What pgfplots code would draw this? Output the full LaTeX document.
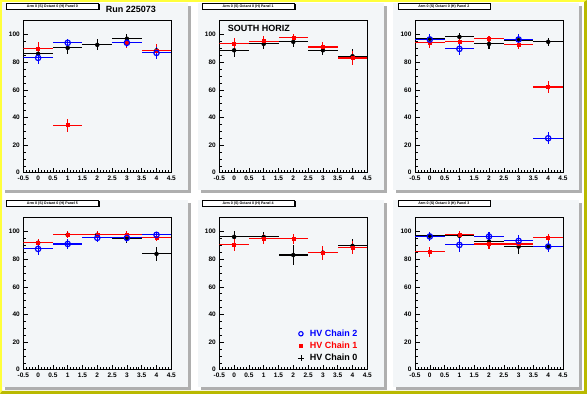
\documentclass[border=0pt]{standalone}
\usepackage{fontspec}
\setmainfont{Liberation Sans}
\usepackage{pgfplots}
\usepackage{pgfplotstable}
\pgfplotsset{compat=1.18}
\definecolor{padc}{RGB}{243,246,248}
\definecolor{shad}{RGB}{175,175,175}
\definecolor{ylw}{RGB}{255,255,60}
\definecolor{olv}{RGB}{185,185,0}

% columns: x, black (chain 0), error, red (chain 1), error, blue (chain 2), error
\pgfplotstableread{
x k ke r re b be
0 86.0 3.0 89.6 5.0 83.1 4.4
1 90.3 4.2 34.4 4.8 94.0 3.1
2 92.5 3.9 nan nan nan nan
3 96.9 3.4 94.4 3.8 94.0 3.0
4 88.5 4.0 88.6 4.8 86.7 4.2
}\tA
\pgfplotstableread{
x k ke r re
0 88.6 4.6 93.5 4.0
1 93.2 3.4 95.2 3.5
2 94.7 3.5 97.6 2.5
3 88.6 3.6 91.0 3.5
4 84.3 5.0 83.0 5.0
}\tB
\pgfplotstableread{
x k ke r re b be
0 96.9 3.0 94.0 3.5 96.4 4.0
1 98.3 3.0 94.7 3.0 89.6 4.6
2 93.2 3.5 96.9 2.0 nan nan
3 95.9 3.0 92.7 3.5 96.4 3.7
4 94.7 3.0 62.0 4.0 24.9 4.4
}\tC
\pgfplotstableread{
x k ke r re b be
0 91.8 3.0 91.8 3.0 87.4 4.5
1 97.6 2.5 97.6 2.5 91.0 3.5
2 97.6 2.5 97.6 2.5 95.4 3.0
3 94.7 3.0 97.6 2.5 95.4 3.0
4 83.8 5.0 95.4 2.5 97.6 2.0
}\tD
\pgfplotstableread{
x k ke r re
0 96.1 4.5 90.3 4.4
1 96.1 3.5 94.7 3.5
2 83.0 7.0 94.7 3.5
3 84.7 4.0 84.7 5.0
4 89.6 5.0 88.4 4.5
}\tE
\pgfplotstableread{
x k ke r re b be
0 96.9 3.0 85.5 3.6 96.4 3.5
1 96.9 3.0 97.6 2.5 90.3 5.0
2 92.7 3.0 91.0 3.5 96.4 3.5
3 89.1 5.5 91.0 3.5 93.2 4.5
4 89.1 4.0 95.6 2.5 89.1 4.0
}\tF

\pgfplotsset{
 rootax/.style={scale only axis, width=148pt, height=152pt, anchor=south west,
  xmin=-0.5, xmax=4.5, ymin=0, ymax=110,
  xtick={-0.5,0,0.5,1,1.5,2,2.5,3,3.5,4,4.5},
  xticklabels={-0.5,0,0.5,1,1.5,2,2.5,3,3.5,4,4.5},
  ytick={0,20,40,60,80,100}, yticklabels={0,20,40,60,80,100},
  minor x tick num=4, minor y tick num=3,
  tick align=inside, tick pos=left,
  major tick length=5pt, minor tick length=2.5pt,
  every tick/.style={black, line width=0.5pt},
  axis line style={line width=0.9pt},
  tick label style={font=\fontsize{6.5}{7}\selectfont\bfseries},
 },
 kser/.style={black, only marks, mark=none, error bars/.cd, x dir=both, x fixed=0.5, y dir=both, y explicit, error mark=none, error bar style={line width=1.1pt}},
 rser/.style={red, only marks, mark=square*, mark size=1.5pt, error bars/.cd, x dir=both, x fixed=0.5, y dir=both, y explicit, error mark=none, error bar style={line width=1.1pt}},
 bser/.style={blue, only marks, mark=o, mark size=2.7pt, mark options={line width=1.2pt}, error bars/.cd, x dir=both, x fixed=0.5, y dir=both, y explicit, error mark=none, error bar style={line width=1.1pt}},
}

% pad background: x0, ytop (image coords, pt), title
\newcommand\padbg[3]{%
  \fill[shad] ({#1pt+3pt},{394pt-#2pt-190pt}) rectangle ({#1pt+189pt},{394pt-#2pt-3pt});
  \fill[padc] ({#1pt},{394pt-#2pt-187pt}) rectangle ({#1pt+186pt},{394pt-#2pt});
  \fill[black] ({#1pt+5pt},{394pt-#2pt-7.3pt}) rectangle ({#1pt+98pt},{394pt-#2pt-1.3pt});
  \node[draw=black, fill=white, line width=0.4pt, minimum width=92pt, minimum height=5.6pt, inner sep=0pt,
        font=\fontsize{3.6}{4}\selectfont\bfseries] at ({#1pt+50.5pt},{394pt-#2pt-3.5pt}) {#3};
}

\begin{document}
\begin{tikzpicture}
\useasboundingbox (0pt,0pt) rectangle (587pt,394pt);
\fill[white] (0pt,0pt) rectangle (587pt,394pt);
\fill[ylw] (0pt,0pt) -- (2pt,3pt) -- (2pt,392pt) -- (584pt,392pt) -- (587pt,394pt) -- (0pt,394pt) -- cycle;
\fill[olv] (0pt,0pt) -- (2pt,3pt) -- (584pt,3pt) -- (584pt,392pt) -- (587pt,394pt) -- (587pt,0pt) -- cycle;

\padbg{2}{3}{Arm 0 (S) Octant 0 (H) Panel 0}
\padbg{197.7}{3}{Arm 0 (S) Octant 0 (H) Panel 1}
\padbg{393.4}{3}{Arm 0 (S) Octant 0 (H) Panel 2}
\padbg{2}{200}{Arm 0 (S) Octant 0 (H) Panel 5}
\padbg{197.7}{200}{Arm 0 (S) Octant 0 (H) Panel 4}
\padbg{393.4}{200}{Arm 0 (S) Octant 0 (H) Panel 3}

\node[font=\fontsize{9}{10}\selectfont\bfseries] at (131pt,385pt) {Run 225073};

% Pad 0
\begin{axis}[rootax, at={(23.3pt,221.3pt)}]
\addplot[kser] table[x=x, y=k, y error=ke] {\tA};
\addplot[rser] table[x=x, y=r, y error=re] {\tA};
\addplot[bser] table[x=x, y=b, y error=be] {\tA};
\end{axis}

% Pad 1
\begin{axis}[rootax, at={(219.3pt,221.3pt)}]
\addplot[kser] table[x=x, y=k, y error=ke] {\tB};
\addplot[rser] table[x=x, y=r, y error=re] {\tB};
\node[anchor=west, font=\fontsize{9}{10}\selectfont\bfseries] at (axis cs:-0.33,104.3) {SOUTH HORIZ};
\end{axis}

% Pad 2
\begin{axis}[rootax, at={(415pt,221.3pt)}]
\addplot[kser] table[x=x, y=k, y error=ke] {\tC};
\addplot[rser] table[x=x, y=r, y error=re] {\tC};
\addplot[bser] table[x=x, y=b, y error=be] {\tC};
\end{axis}

% Pad 5
\begin{axis}[rootax, at={(23.3pt,24.3pt)}]
\addplot[kser] table[x=x, y=k, y error=ke] {\tD};
\addplot[rser] table[x=x, y=r, y error=re] {\tD};
\addplot[bser] table[x=x, y=b, y error=be] {\tD};
\end{axis}

% Pad 4
\begin{axis}[rootax, at={(219.3pt,24.3pt)},
  legend style={draw=none, fill=none, at={(axis cs:2.15,30.5)}, anchor=north west,
    font=\fontsize{9}{10}\selectfont\bfseries, row sep=0.3pt, inner sep=0pt,
    /tikz/every odd column/.append style={column sep=4pt}},
  legend cell align=left]
\addplot[forget plot, kser] table[x=x, y=k, y error=ke] {\tE};
\addplot[forget plot, rser] table[x=x, y=r, y error=re] {\tE};
\addlegendimage{blue, only marks, mark=o, mark size=2.2pt, mark options={line width=1.1pt}}
\addlegendentry{\textcolor{blue}{HV Chain 2}}
\addlegendimage{red, only marks, mark=square*, mark size=1.5pt}
\addlegendentry{\textcolor{red}{HV Chain 1}}
\addlegendimage{black, only marks, mark=+, mark size=3pt, mark options={line width=0.8pt}}
\addlegendentry{HV Chain 0}
\end{axis}

% Pad 3
\begin{axis}[rootax, at={(415pt,24.3pt)}]
\addplot[kser] table[x=x, y=k, y error=ke] {\tF};
\addplot[rser] table[x=x, y=r, y error=re] {\tF};
\addplot[bser] table[x=x, y=b, y error=be] {\tF};
\end{axis}
\end{tikzpicture}
\end{document}
